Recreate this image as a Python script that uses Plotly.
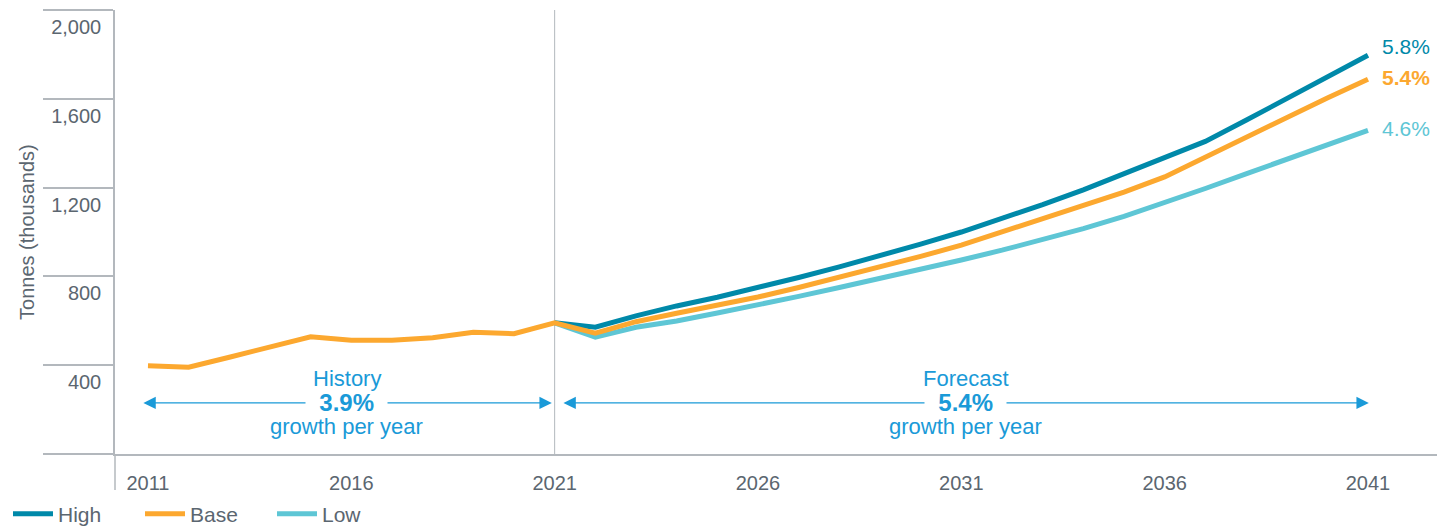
import plotly.graph_objects as go

# ---------------- data ----------------
hist_years = [2011, 2012, 2013, 2014, 2015, 2016, 2017, 2018, 2019, 2020, 2021]
hist_base = [398, 391, 436, 482, 528, 512, 512, 524, 548, 542, 591]

fc_years = list(range(2021, 2042))
fc_high = [591, 571, 622, 667, 706, 748, 795, 843, 893, 945, 1000,
           1060, 1123, 1190, 1262, 1335, 1408, 1503, 1600, 1698, 1796]
fc_base = [591, 544, 596, 634, 670, 707, 750, 795, 842, 890, 941,
           1000, 1060, 1118, 1180, 1248, 1338, 1428, 1518, 1604, 1688]
fc_low = [591, 526, 571, 599, 635, 671, 710, 750, 790, 832, 874,
          918, 964, 1015, 1070, 1131, 1196, 1262, 1327, 1393, 1458]

series_names = ["High", "Base", "Low"]
end_labels = ["5.8%", "5.4%", "4.6%"]

y_tickvals = [0, 400, 800, 1200, 1600, 2000]
y_ticktext = ["", "400", "800", "1,200", "1,600", "2,000"]
x_tickvals = [2011, 2016, 2021, 2026, 2031, 2036, 2041]

history_text = ["History", "3.9%", "growth per year"]
forecast_text = ["Forecast", "5.4%", "growth per year"]

# ---------------- styles ----------------
C_HIGH = "#0089A9"
C_BASE = "#FCA82F"
C_LOW = "#5EC6D5"
C_BLUE = "#1A9AD8"
C_TEXT = "#5B6670"
C_AXIS = "#B3B8BD"
FONT = "Liberation Sans, Arial, Helvetica, sans-serif"

fig = go.Figure()

base_x = hist_years + fc_years[1:]
base_y = hist_base + fc_base[1:]

fig.add_trace(go.Scatter(x=fc_years, y=fc_high, name=series_names[0], mode="lines",
                         line=dict(color=C_HIGH, width=5)))
fig.add_trace(go.Scatter(x=fc_years, y=fc_low, name=series_names[2], mode="lines",
                         line=dict(color=C_LOW, width=5)))
fig.add_trace(go.Scatter(x=base_x, y=base_y, name=series_names[1], mode="lines",
                         line=dict(color=C_BASE, width=5)))

# 2021 divider
fig.add_shape(type="line", xref="x", yref="y", x0=2021, x1=2021, y0=0, y1=2000,
              line=dict(color=C_AXIS, width=1), layer="below")
# y-axis extension below the x axis
fig.add_shape(type="line", xref="paper", yref="paper", x0=0, x1=0, y0=0, y1=-0.081,
              line=dict(color=C_AXIS, width=1.5))

ann = []
# arrows
arrow_y = 230
for x0, x1 in [(2010.85, 2020.93), (2021.18, 2041.02)]:
    ann.append(dict(x=x1, y=arrow_y, ax=x0, ay=arrow_y, xref="x", yref="y",
                    axref="x", ayref="y", text="", showarrow=True,
                    arrowhead=2, arrowside="end+start", arrowsize=1.9,
                    arrowwidth=1.3, arrowcolor=C_BLUE))
# text blocks
for cx, texts in [(2015.89, history_text), (2031.11, forecast_text)]:
    ann.append(dict(x=cx, y=arrow_y, xref="x", yref="y", showarrow=False,
                    text="\u00a0\u00a0<b>" + texts[1] + "</b>\u00a0\u00a0",
                    font=dict(family=FONT, size=24, color=C_BLUE),
                    bgcolor="white", borderpad=0))
    ann.append(dict(x=cx, y=338, xref="x", yref="y", showarrow=False,
                    text=texts[0], font=dict(family=FONT, size=22, color=C_BLUE)))
    ann.append(dict(x=cx, y=122, xref="x", yref="y", showarrow=False,
                    text=texts[2], font=dict(family=FONT, size=22, color=C_BLUE)))

# end labels
ends = [fc_high[-1], fc_base[-1], fc_low[-1]]
colors = [C_HIGH, C_BASE, C_LOW]
shifts = [9, 2, 2]
for lab, v, c, s in zip(end_labels, ends, colors, shifts):
    txt = "<b>" + lab + "</b>" if lab == "5.4%" else lab
    ann.append(dict(x=fc_years[-1], y=v, xref="x", yref="y", showarrow=False,
                    text=txt, xanchor="left", xshift=12, yshift=s,
                    font=dict(family=FONT, size=21, color=c)))

# axis title
ann.append(dict(x=-0.0666, y=1000, xref="paper", yref="y", showarrow=False,
                xanchor="center", yanchor="middle",
                text="Tonnes (thousands)", textangle=-90,
                font=dict(family=FONT, size=20, color=C_TEXT)))

fig.update_layout(
    width=1443, height=518,
    margin=dict(l=107, r=14, t=2, b=72, autoexpand=False),
    paper_bgcolor="white", plot_bgcolor="white",
    font=dict(family=FONT, size=20, color=C_TEXT),
    annotations=ann,
    showlegend=True,
    legend=dict(orientation="h", xref="container", yref="container",
                x=0.0, y=0.023, xanchor="left", yanchor="middle",
                traceorder="normal", entrywidth=77, entrywidthmode="pixels",
                font=dict(family=FONT, size=21, color=C_TEXT),
                itemwidth=40, bgcolor="rgba(0,0,0,0)"),
    xaxis=dict(range=[2010.189, 2042.697], tickvals=x_tickvals,
               showgrid=False, zeroline=False, showline=True,
               linecolor=C_AXIS, linewidth=1.5, ticks="", automargin=False,
               tickfont=dict(family=FONT, size=20, color=C_TEXT),
               ticklabelstandoff=10),
    yaxis=dict(range=[0, 2000], tickvals=y_tickvals, ticktext=y_ticktext,
               showgrid=False, zeroline=False, showline=True, automargin=False,
               linecolor=C_AXIS, linewidth=1.5,
               ticks="outside", ticklen=70, tickcolor=C_AXIS, tickwidth=1.5,
               ticklabelstandoff=-62, ticklabelshift=17,
               tickfont=dict(family=FONT, size=20, color=C_TEXT)),
)

# legend order High, Base, Low
fig.data[0].legendrank = 1
fig.data[2].legendrank = 2
fig.data[1].legendrank = 3

fig.write_html("out.html")
